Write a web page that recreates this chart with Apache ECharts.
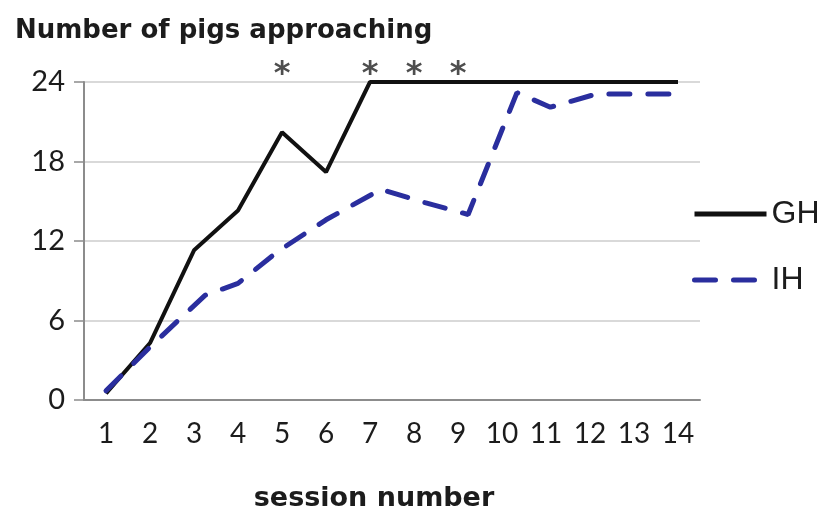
<!DOCTYPE html>
<html>
<head>
<meta charset="utf-8">
<script src="https://cdn.jsdelivr.net/npm/echarts@6/dist/echarts.min.js"></script>
<style>html,body{margin:0;padding:0;background:#fff}#c{width:827px;height:518px}</style>
</head>
<body>
<div id="c"></div>
<script>
// Data
var sessions = ['1','2','3','4','5','6','7','8','9','10','11','12','13','14'];
var ghValues = [0.5, 4.3, 11.3, 14.3, 20.2, 17.2, 24, 24, 24, 24, 24, 24, 24, 24];
// IH line vertices as drawn (session position, value)
var ihSessions = [1, 2, 3.25, 4, 4.9, 6, 7.25, 8.25, 9.23, 10.34, 11.1, 12.15, 13, 14];
var ihValues   = [0.7, 4.0, 7.9, 8.8, 11.2, 13.6, 15.9, 14.9, 14.0, 23.2, 22.1, 23.1, 23.1, 23.1];
var starSessions = ['5', '7', '8', '9'];
var starLevel = 25.1;
var yTicks = {min: 0, max: 24, interval: 6};

var ihData = ihSessions.map(function (s, i) { return [s, ihValues[i]]; });
var starData = starSessions.map(function (s) { return [s, starLevel]; });

var chart = echarts.init(document.getElementById('c'));
var txt = '#1c1c1c';
chart.setOption({
  animation: false,
  backgroundColor: '#ffffff',
  grid: {left: 84, right: 127, top: 82, bottom: 118, containLabel: false},
  legend: {
    orient: 'vertical', left: 687, top: 193,
    itemWidth: 72, itemHeight: 14, itemGap: 34,
    itemStyle: {opacity: 0},
    lineStyle: {width: 5},
    textStyle: {fontFamily: 'Liberation Sans', fontSize: 32, color: txt},
    data: ['GH', 'IH']
  },
  xAxis: [{
    type: 'category', data: sessions, boundaryGap: true,
    name: 'session number', nameLocation: 'middle', nameGap: 85,
    nameTextStyle: {fontFamily: 'DejaVu Sans', fontWeight: 'bold', fontSize: 27, color: txt, padding: [0, 36, 0, 0]},
    axisLine: {lineStyle: {color: '#8c8c8c', width: 2}},
    axisTick: {alignWithLabel: true, length: 11, lineStyle: {color: '#8c8c8c', width: 1.5}},
    axisLabel: {fontFamily: 'Lato', fontSize: 28, color: txt, margin: 20, interval: 0}
  }, {
    type: 'value', min: 0.5, max: 14.5, show: false
  }],
  yAxis: {
    type: 'value', min: yTicks.min, max: yTicks.max, interval: yTicks.interval,
    name: 'Number of pigs approaching', nameLocation: 'end', nameGap: 38,
    nameTextStyle: {fontFamily: 'DejaVu Sans', fontWeight: 'bold', fontSize: 26, color: txt, align: 'left', padding: [0, 0, 0, -69]},
    axisLine: {show: true, lineStyle: {color: '#8c8c8c', width: 2}},
    axisTick: {show: true, length: 10, lineStyle: {color: '#8c8c8c', width: 1.5}},
    axisLabel: {fontFamily: 'Lato', fontSize: 29, color: txt, margin: 19},
    splitLine: {lineStyle: {color: '#d9d9d9', width: 2}}
  },
  series: [{
    name: 'GH', type: 'line', data: ghValues, xAxisIndex: 0,
    symbol: 'none', color: '#111111',
    lineStyle: {color: '#111111', width: 4}
  }, {
    name: 'IH', type: 'line', data: ihData, xAxisIndex: 1,
    symbol: 'none', color: '#2a2e9e',
    lineStyle: {color: '#2a2e9e', width: 5, type: [21, 18], cap: 'round'}
  }, {
    name: 'stars', type: 'scatter', data: starData, xAxisIndex: 0,
    symbolSize: 1, clip: false, itemStyle: {color: 'rgba(0,0,0,0)'},
    label: {show: true, formatter: '*', position: 'inside', fontFamily: 'DejaVu Sans', fontWeight: 'bold', fontSize: 32, color: '#222', offset: [0, 7]},
    silent: true
  }]
});
</script>
</body>
</html>
